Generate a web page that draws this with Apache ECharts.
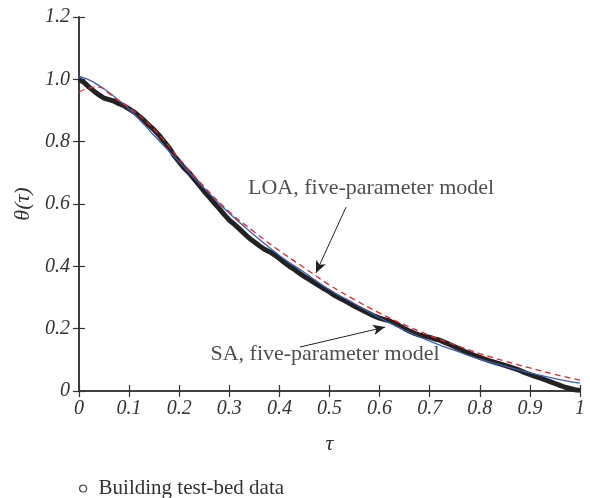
<!DOCTYPE html>
<html>
<head>
<meta charset="utf-8">
<script src="https://cdn.jsdelivr.net/npm/echarts@6/dist/echarts.min.js"></script>
<style>
  html, body { margin: 0; padding: 0; background: #fff; }
  #chart { width: 590px; height: 498px; }
</style>
</head>
<body>
<div id="chart"></div>
<script>
// Dimensionless time and measured temperature ratio
const tau = [0, 0.01, 0.02, 0.03, 0.04, 0.05, 0.06, 0.07, 0.08, 0.09,
  0.10, 0.11, 0.12, 0.13, 0.14, 0.15, 0.16, 0.17, 0.18, 0.19,
  0.20, 0.21, 0.22, 0.23, 0.24, 0.25, 0.26, 0.27, 0.28, 0.29,
  0.30, 0.31, 0.32, 0.33, 0.34, 0.35, 0.36, 0.37, 0.38, 0.39,
  0.40, 0.41, 0.42, 0.43, 0.44, 0.45, 0.46, 0.47, 0.48, 0.49,
  0.50, 0.51, 0.52, 0.53, 0.54, 0.55, 0.56, 0.57, 0.58, 0.59,
  0.60, 0.61, 0.62, 0.63, 0.64, 0.65, 0.66, 0.67, 0.68, 0.69,
  0.70, 0.71, 0.72, 0.73, 0.74, 0.75, 0.76, 0.77, 0.78, 0.79,
  0.80, 0.81, 0.82, 0.83, 0.84, 0.85, 0.86, 0.87, 0.88, 0.89,
  0.90, 0.91, 0.92, 0.93, 0.94, 0.95, 0.96, 0.97, 0.98, 0.99, 1.0];

const measured = [1.0, 0.99, 0.975, 0.962, 0.95, 0.94, 0.935, 0.93, 0.922, 0.915,
  0.905, 0.895, 0.882, 0.868, 0.852, 0.838, 0.82, 0.80, 0.78, 0.755,
  0.735, 0.715, 0.70, 0.68, 0.66, 0.64, 0.622, 0.603, 0.585, 0.566,
  0.548, 0.535, 0.52, 0.505, 0.49, 0.478, 0.466, 0.455, 0.447, 0.437,
  0.425, 0.412, 0.40, 0.39, 0.378, 0.367, 0.357, 0.347, 0.337, 0.327,
  0.318, 0.307, 0.298, 0.29, 0.281, 0.272, 0.264, 0.256, 0.248, 0.24,
  0.234, 0.229, 0.225, 0.217, 0.209, 0.20, 0.192, 0.185, 0.179, 0.176,
  0.172, 0.167, 0.163, 0.156, 0.149, 0.142, 0.135, 0.127, 0.12, 0.114,
  0.108, 0.102, 0.097, 0.092, 0.087, 0.082, 0.077, 0.072, 0.066, 0.059,
  0.053, 0.047, 0.042, 0.036, 0.03, 0.024, 0.018, 0.012, 0.008, 0.004, 0.002];

// Model curves
const tauModel = [0, 0.02, 0.04, 0.06, 0.08, 0.10, 0.15, 0.20, 0.25, 0.30, 0.35,
  0.40, 0.45, 0.50, 0.55, 0.60, 0.65, 0.70, 0.75, 0.80, 0.85, 0.90, 0.95, 1.0];

const loaModel = [0.96, 0.972, 0.975, 0.955, 0.93, 0.91, 0.84, 0.745, 0.655, 0.575, 0.51,
  0.45, 0.395, 0.34, 0.293, 0.25, 0.212, 0.178, 0.148, 0.12, 0.096, 0.074, 0.053, 0.035];

const saModel = [1.01, 0.998, 0.98, 0.958, 0.932, 0.905, 0.82, 0.735, 0.65, 0.57, 0.50,
  0.435, 0.38, 0.325, 0.28, 0.235, 0.195, 0.16, 0.13, 0.102, 0.08, 0.058, 0.04, 0.025];

const xTicks = ['0', '0.1', '0.2', '0.3', '0.4', '0.5', '0.6', '0.7', '0.8', '0.9', '1'];
const yTicks = ['0', '0.2', '0.4', '0.6', '0.8', '1.0', '1.2'];

const serif = '"Liberation Serif", "DejaVu Serif", serif';
const axisColor = '#333';

const pairs = (xs, ys) => xs.map((x, i) => [x, ys[i]]);

const chart = echarts.init(document.getElementById('chart'), null, { renderer: 'canvas' });

const tickLabel = {
  fontFamily: serif, fontStyle: 'italic', fontSize: 20, color: '#333'
};

chart.setOption({
  animation: false,
  backgroundColor: '#fff',
  grid: { left: 79, right: 10, top: 17, bottom: 107 },
  legend: {
    left: 74, top: 473,
    itemWidth: 7, itemHeight: 7, itemGap: 10,
    textStyle: { fontFamily: serif, fontSize: 21, color: '#333', padding: [0, 0, 0, 7] },
    data: [{ name: 'Building test-bed data', icon: 'circle',
      itemStyle: { color: '#fff', borderColor: '#444', borderWidth: 1.2 } }]
  },
  xAxis: [{
    type: 'value', min: 0, max: 1, interval: 0.1,
    name: 'τ', nameLocation: 'middle', nameGap: 42,
    nameTextStyle: { fontFamily: serif, fontStyle: 'italic', fontSize: 22, color: '#333' },
    axisLine: { lineStyle: { color: axisColor, width: 1.5 } },
    axisTick: { inside: true, length: 6, lineStyle: { color: axisColor, width: 1.2 } },
    axisLabel: Object.assign({ margin: 8, formatter: (v) => xTicks[Math.round(v * 10)] }, tickLabel),
    splitLine: { show: false }
  }, {
    type: 'value', min: 0, max: 1, interval: 0.1, position: 'top',
    axisLine: { lineStyle: { color: axisColor, width: 1.5 } },
    axisTick: { inside: true, length: 6, lineStyle: { color: axisColor, width: 1.2 } },
    axisLabel: { show: false }, splitLine: { show: false }
  }],
  yAxis: [{
    type: 'value', min: 0, max: 1.2, interval: 0.2,
    name: 'θ(τ)', nameLocation: 'middle', nameGap: 41, nameRotate: 90,
    nameTextStyle: { fontFamily: serif, fontStyle: 'italic', fontSize: 22, color: '#333' },
    axisLine: { show: true, lineStyle: { color: axisColor, width: 1.5 } },
    axisTick: { show: true, inside: true, length: 6, lineStyle: { color: axisColor, width: 1.2 } },
    axisLabel: Object.assign({ margin: 9, formatter: (v) => yTicks[Math.round(v * 5)] }, tickLabel),
    splitLine: { show: false }
  }, {
    type: 'value', min: 0, max: 1.2, interval: 0.2, position: 'right',
    axisLine: { show: true, lineStyle: { color: axisColor, width: 1.5 } },
    axisTick: { show: true, inside: true, length: 6, lineStyle: { color: axisColor, width: 1.2 } },
    axisLabel: { show: false }, splitLine: { show: false }
  }],
  series: [
    {
      name: 'Building test-bed data', type: 'line', data: pairs(tau, measured),
      showSymbol: false, symbol: 'emptyCircle',
      lineStyle: { color: '#222', width: 5 }, itemStyle: { color: '#222' },
      z: 2
    },
    {
      name: 'SA, five-parameter model', type: 'line', data: pairs(tauModel, saModel),
      smooth: 0.4, showSymbol: false,
      lineStyle: { color: '#3c5fb4', width: 1.3 }, z: 3,
      markLine: {
        silent: true, symbol: ['none', 'arrow'], symbolSize: [8, 12],
        lineStyle: { color: '#222', width: 1, type: 'solid' },
        label: { show: false },
        data: [[{ coord: [0.441, 0.141] }, { coord: [0.611, 0.205] }]]
      }
    },
    {
      name: 'LOA, five-parameter model', type: 'line', data: pairs(tauModel, loaModel),
      smooth: 0.4, showSymbol: false,
      lineStyle: { color: '#e5262d', width: 1.3, type: [6, 4] }, z: 4,
      markLine: {
        silent: true, symbol: ['none', 'arrow'], symbolSize: [8, 12],
        lineStyle: { color: '#222', width: 1, type: 'solid' },
        label: { show: false },
        data: [[{ coord: [0.533, 0.59] }, { coord: [0.473, 0.379] }]]
      }
    },
    {
      // annotation labels
      type: 'scatter', symbolSize: 0, silent: true, z: 5,
      data: [
        { value: [0.583, 0.65], label: { formatter: 'LOA, five-parameter model' } },
        { value: [0.491, 0.119], label: { formatter: 'SA, five-parameter model' } }
      ],
      label: {
        show: true, position: 'inside',
        fontFamily: serif, fontSize: 22, color: '#222'
      }
    }
  ]
});
</script>
</body>
</html>
